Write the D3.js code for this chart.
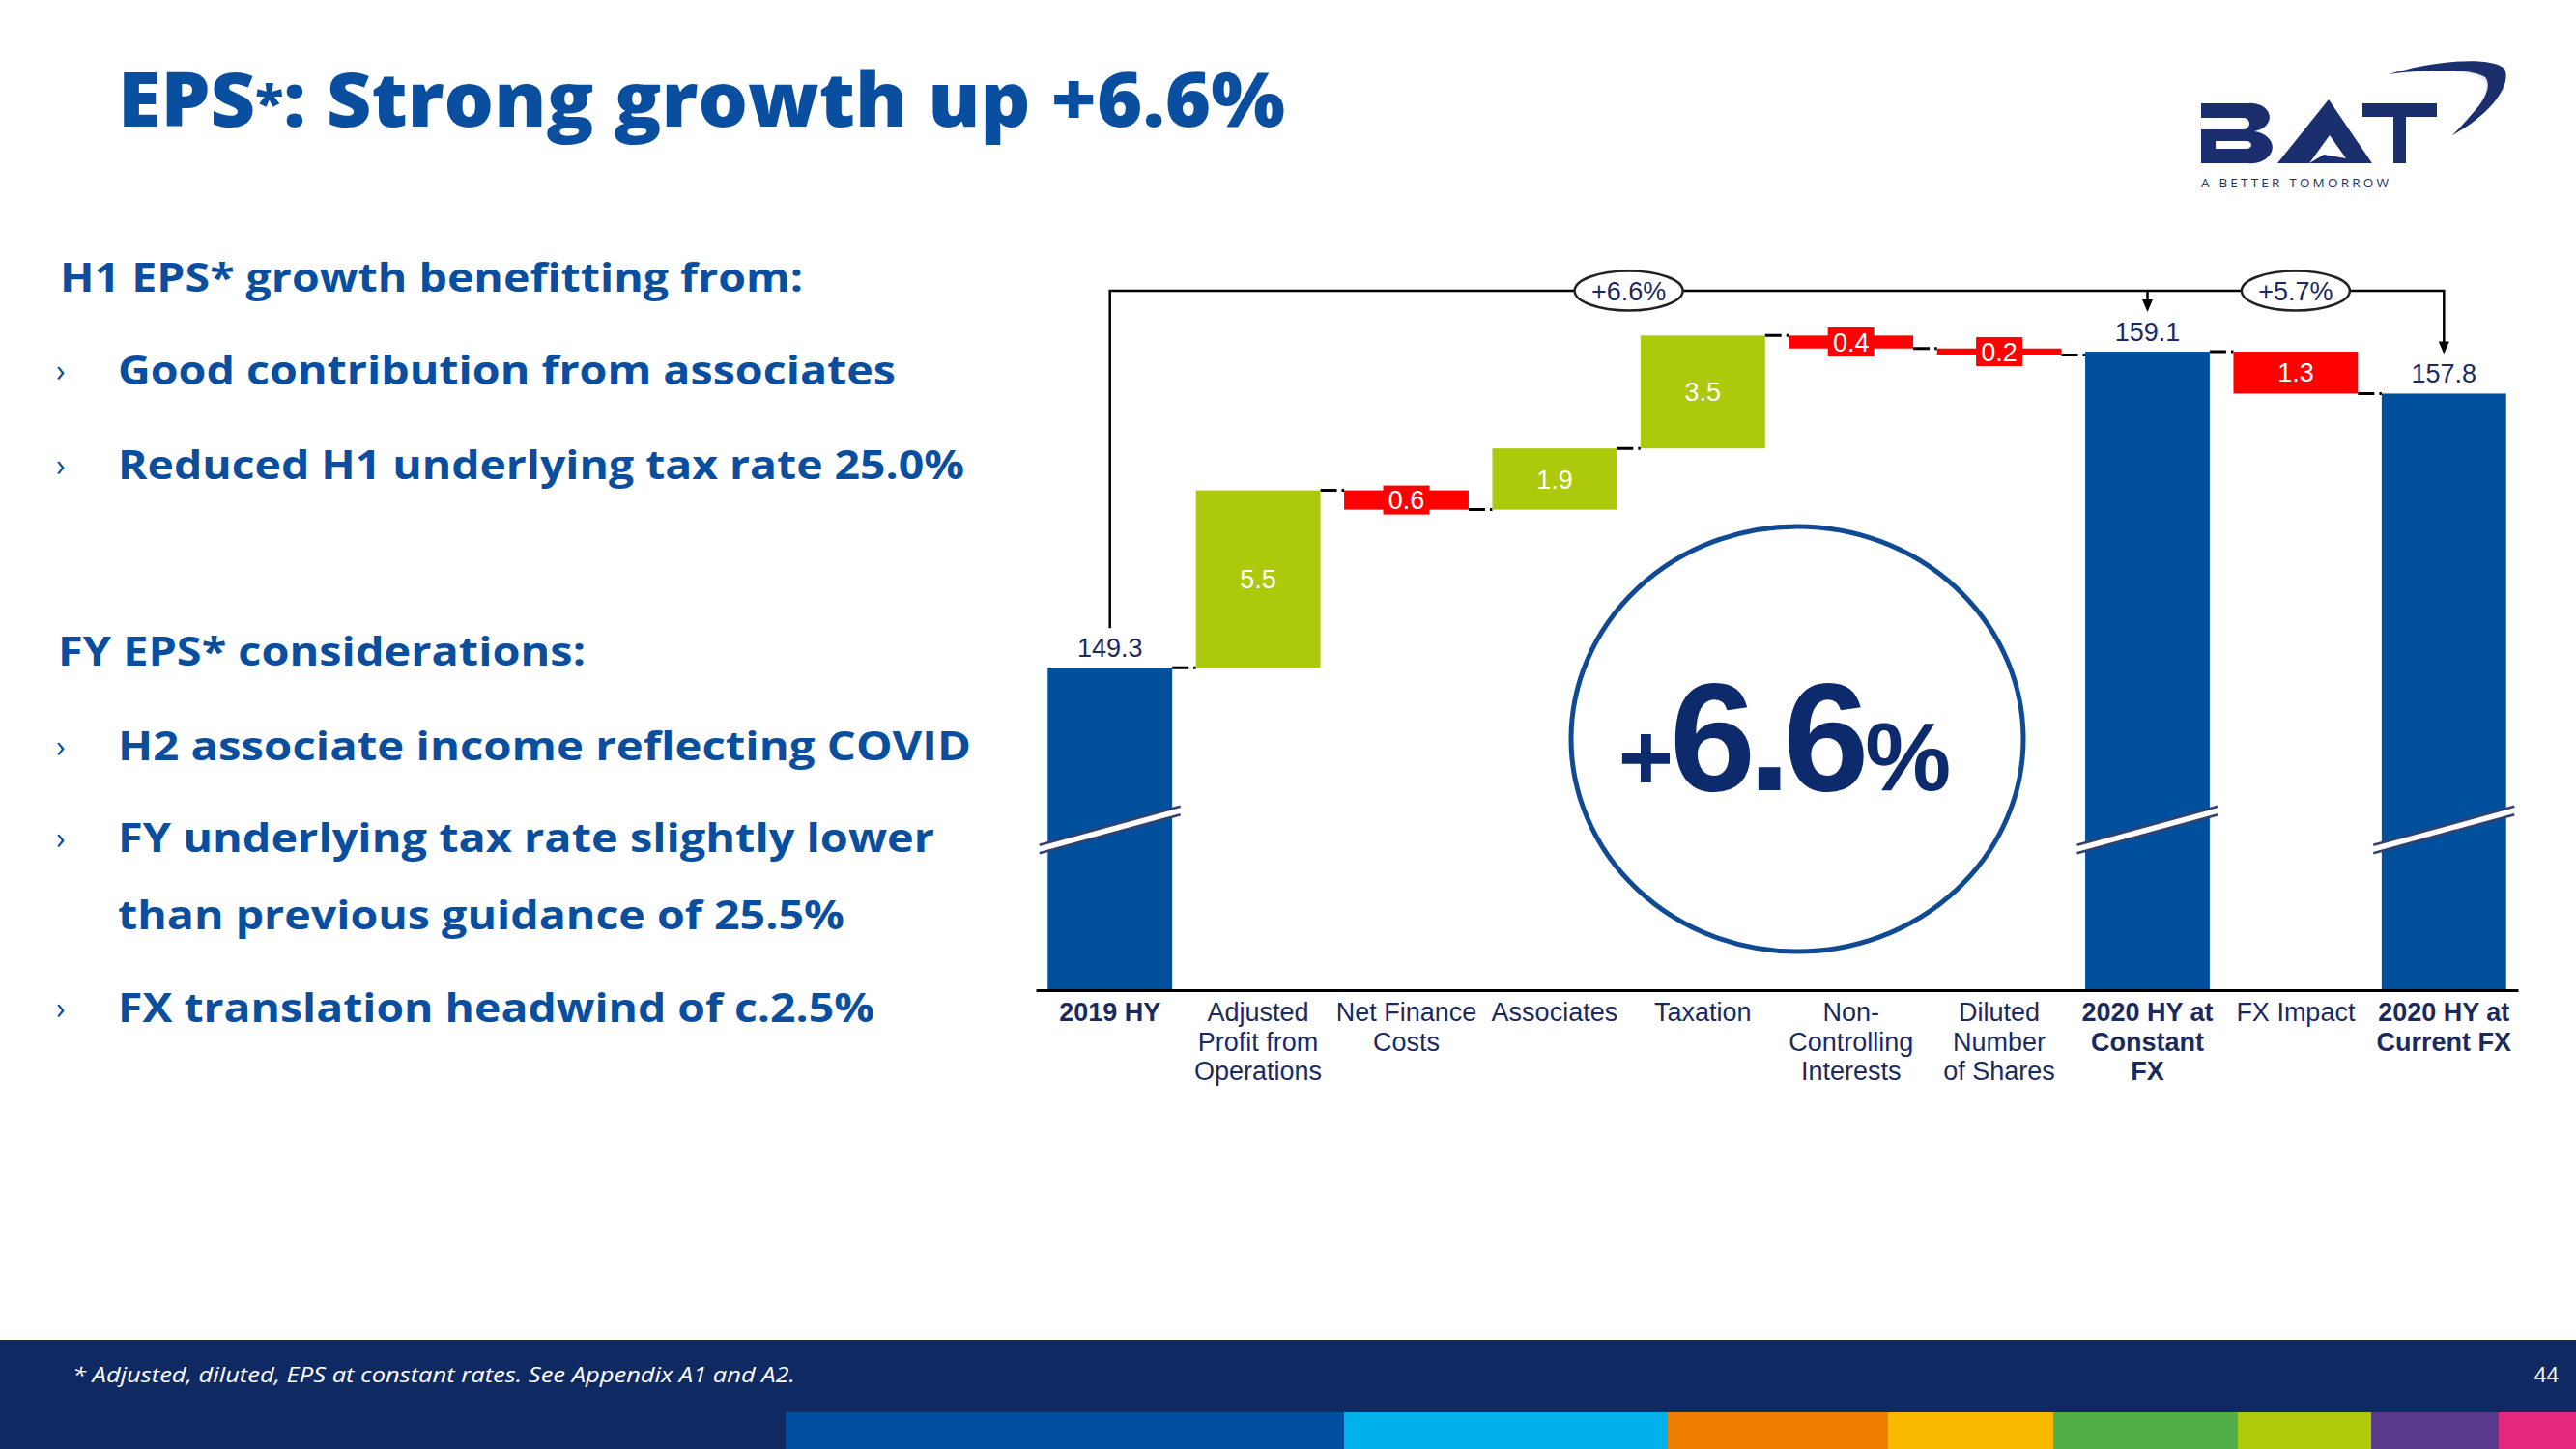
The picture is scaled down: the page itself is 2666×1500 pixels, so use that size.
<!DOCTYPE html>
<html><head><meta charset="utf-8">
<script src="https://cdn.jsdelivr.net/npm/d3@7"></script>
<style>html,body{margin:0;padding:0;background:#fff;}svg{display:block;}</style>
</head><body>
<svg id="c" width="2666" height="1500"></svg>
<script>
// ---------- DATA ----------
const categories = ["2019 HY","Adjusted Profit from Operations","Net Finance Costs","Associates","Taxation","Non-Controlling Interests","Diluted Number of Shares","2020 HY at Constant FX","FX Impact","2020 HY at Current FX"];
const categoryLines = [["2019 HY"],["Adjusted","Profit from","Operations"],["Net Finance","Costs"],["Associates"],["Taxation"],["Non-","Controlling","Interests"],["Diluted","Number","of Shares"],["2020 HY at","Constant","FX"],["FX Impact"],["2020 HY at","Current FX"]];
const values = [149.3, 5.5, -0.6, 1.9, 3.5, -0.4, -0.2, 159.1, -1.3, 157.8];
const kinds = ["total","delta","delta","delta","delta","delta","delta","total","delta","total"];
const growthLabels = ["+6.6%","+5.7%"];
const bigGrowth = ["+","6.6","%"];
const axisFloor = 139.3;   // broken value axis starts here
const axisTop = 160;

const titleParts = ["EPS","*",": Strong growth up +6.6%"];
const h1Heading = "H1 EPS* growth benefitting from:";
const h1Points = ["Good contribution from associates","Reduced H1 underlying tax rate 25.0%"];
const fyHeading = "FY EPS* considerations:";
const fyPoints = [["H2 associate income reflecting COVID"],["FY underlying tax rate slightly lower","than previous guidance of 25.5%"],["FX translation headwind of c.2.5%"]];
const footnote = "* Adjusted, diluted, EPS at constant rates.  See Appendix A1 and A2.";
const pageNumber = "44";
const stripeColors = ["#004f9f","#00b1eb","#ef7d00","#fbba00","#50af47","#afca0b","#5a3a8d","#e6287f"];
const stripeStops = [813,1391,1726,1954,2125,2316,2454,2586,2666];

// ---------- STYLE ----------
const BLUE = "#0a4f9f", NAVY = "#1b2a5e", BAR_BLUE = "#00509e", LIME = "#adc90c", RED = "#ff0000";
const SANS = "'Open Sans', 'Noto Sans', sans-serif";
const ARIAL = "'Liberation Sans', Arial, sans-serif";

const svg = d3.select("#c");
svg.append("rect").attr("width",2666).attr("height",1500).attr("fill","#fff");

// ---------- TITLE ----------
const title = svg.append("text").attr("x",122).attr("y",131)
  .attr("font-family",SANS).attr("font-weight",800).attr("font-size",78).attr("fill",BLUE)
  .attr("textLength",1208).attr("lengthAdjust","spacingAndGlyphs");
title.append("tspan").text(titleParts[0]);
title.append("tspan").attr("font-size",52).attr("dy",-6).text(titleParts[1]);
title.append("tspan").attr("dy",6).text(titleParts[2]);

// ---------- LEFT TEXT ----------
function txt(x,y,s,w,size){
  return svg.append("text").attr("x",x).attr("y",y).attr("font-family",SANS).attr("font-weight",700)
    .attr("font-size",size||42).attr("fill",BLUE).attr("textLength",w).attr("lengthAdjust","spacingAndGlyphs").text(s);
}
function bullet(y){
  svg.append("text").attr("x",58).attr("y",y-3).attr("font-family",SANS).attr("font-size",32)
    .attr("fill",BLUE).text("\u203A");
}
txt(62,302,h1Heading,769);
const h1Y=[398,496], h1W=[805,876];
h1Points.forEach((s,i)=>{bullet(h1Y[i]); txt(122,h1Y[i],s,h1W[i]);});
txt(60,689,fyHeading,546);
const fyY=[[787],[882,962],[1058]], fyW=[[883],[845,752],[783]];
fyPoints.forEach((lines,i)=>{bullet(fyY[i][0]); lines.forEach((s,j)=>txt(122,fyY[i][j],s,fyW[i][j]));});

// ---------- LOGO ----------
const logo = svg.append("g").attr("fill","#1b2f6e");
logo.append("path").attr("fill-rule","evenodd").attr("d",
  "M2278,107 H2326 A19,14.5 0 0 1 2333,136 A22,16.5 0 0 1 2326,169 H2278 Z " +
  "M2278,122 H2322 A6,6 0 0 1 2322,134 H2278 Z M2293,146 H2325 A5,4 0 0 1 2325,154 H2293 Z");
logo.append("path").attr("fill-rule","evenodd").attr("d",
  "M2357,169 L2410,103 L2455,169 Z M2390,169 L2411,140 L2428,164 L2405,160 Z");
logo.append("rect").attr("x",2445).attr("y",107).attr("width",77).attr("height",14);
logo.append("rect").attr("x",2477).attr("y",107).attr("width",13).attr("height",62);
logo.append("path").attr("d","M2472,77 C2520,62 2578,58 2592,71 C2600,88 2578,118 2538,140 C2566,112 2579,92 2570,83 C2556,72 2515,71 2472,77 Z");
logo.append("path").attr("fill","#fff").attr("d","M2480,79 C2525,70 2560,72 2572,80 C2580,90 2570,108 2552,124 C2566,106 2572,92 2566,86 C2555,78 2520,76 2480,79 Z").attr("opacity",0.9);
svg.append("text").attr("x",2278).attr("y",194).attr("font-family",SANS).attr("font-size",13.5)
  .attr("letter-spacing",3.2).attr("fill","#1b2f6e").text("A BETTER TOMORROW");

// ---------- CHART ----------
const x = d3.scaleBand().domain(categories).range([1072,2606]).paddingInner(0.16).paddingOuter(0.08);
const y = d3.scaleLinear().domain([axisFloor, axisTop]).range([1025, 334]);
const bw = x.bandwidth();
const cx = c => x(c) + bw/2;

let run = 0;
const bars = categories.map((c,i)=>{
  const v = values[i];
  if (kinds[i]==="total"){ run = v; return {c,i,v,kind:"total",lo:axisFloor,hi:v,end:v}; }
  const s = run; run = run + v;
  return {c,i,v,kind:v>=0?"up":"down",lo:Math.min(s,run),hi:Math.max(s,run),end:run};
});

const chart = svg.append("g");

// connectors
const conn = chart.append("g").attr("stroke","#000").attr("stroke-width",3).attr("stroke-dasharray","17,5");
bars.slice(0,-1).forEach((b,i)=>{
  const nx = bars[i+1];
  conn.append("line").attr("x1",x(b.c)+bw).attr("x2",x(nx.c))
    .attr("y1",y(b.end)).attr("y2",y(b.end));
});

// bars
chart.selectAll("rect.bar").data(bars).join("rect").attr("class","bar")
  .attr("x",d=>x(d.c)).attr("width",bw)
  .attr("y",d=>y(d.hi)).attr("height",d=>y(d.lo)-y(d.hi))
  .attr("fill",d=>d.kind==="total"?BAR_BLUE:d.kind==="up"?LIME:RED);

// axis
const axis = chart.append("g").attr("transform","translate(0,1025)")
  .call(d3.axisBottom(x).tickSize(0).tickSizeOuter(0).tickFormat(""));
axis.select(".domain").attr("stroke","#000").attr("stroke-width",3);
axis.selectAll(".tick text").remove();

// category labels
bars.forEach(b=>{
  const t = chart.append("text").attr("x",cx(b.c)).attr("y",1057).attr("text-anchor","middle")
    .attr("font-family",ARIAL).attr("font-size",27).attr("fill",NAVY)
    .attr("font-weight",b.kind==="total"?700:400);
  categoryLines[b.i].forEach((l,j)=>t.append("tspan").attr("x",cx(b.c)).attr("dy",j===0?0:30.5).text(l));
});

// axis break marks on total bars
const breakY = 859;
bars.filter(b=>b.kind==="total").forEach(b=>{
  const c = cx(b.c), dx=73, dy=20, off=4.2;
  chart.append("polygon").attr("fill","#fff")
    .attr("points",[[c-dx,breakY+dy-off],[c+dx,breakY-dy-off],[c+dx,breakY-dy+off],[c-dx,breakY+dy+off]].map(p=>p.join(",")).join(" "));
  [-off,off].forEach(o=>chart.append("line").attr("x1",c-dx).attr("y1",breakY+dy+o).attr("x2",c+dx).attr("y2",breakY-dy+o)
    .attr("stroke","#34416d").attr("stroke-width",2.6));
});

// value labels
bars.forEach(b=>{
  const lab = Math.abs(b.v).toFixed(1);
  if (b.kind==="total"){
    chart.append("text").attr("x",cx(b.c)).attr("y",y(b.hi)-11).attr("text-anchor","middle")
      .attr("font-family",ARIAL).attr("font-size",27).attr("fill",NAVY).text(lab);
  } else {
    const my = (y(b.hi)+y(b.lo))/2;
    const h = y(b.lo)-y(b.hi);
    if (h < 30){
      chart.append("rect").attr("x",cx(b.c)-24).attr("y",my-15).attr("width",48).attr("height",30).attr("fill",RED);
    }
    chart.append("text").attr("x",cx(b.c)).attr("y",my).attr("dy","0.36em").attr("text-anchor","middle")
      .attr("font-family",ARIAL).attr("font-size",27).attr("fill","#fff").text(lab);
  }
});

// growth bracket
const totals = bars.filter(b=>b.kind==="total");
const bracketY = 301;
const tipOf = b => y(b.hi) - 41;
const br = chart.append("g");
br.append("path").attr("fill","none").attr("stroke","#000").attr("stroke-width",2.5)
  .attr("d",`M${cx(totals[0].c)},${tipOf(totals[0])} V${bracketY} H${cx(totals[2].c)} V${tipOf(totals[2])-12}`);
br.append("line").attr("x1",cx(totals[1].c)).attr("x2",cx(totals[1].c)).attr("y1",bracketY).attr("y2",tipOf(totals[1])-12)
  .attr("stroke","#000").attr("stroke-width",2.5);
[totals[1],totals[2]].forEach(b=>{
  const c=cx(b.c), t=tipOf(b);
  br.append("path").attr("fill","#000").attr("d",`M${c-5.5},${t-13} L${c+5.5},${t-13} L${c},${t} Z`);
});
const pills = [ (cx(totals[0].c)+cx(totals[1].c))/2, (cx(totals[1].c)+cx(totals[2].c))/2 ];
pills.forEach((px,i)=>{
  br.append("ellipse").attr("cx",px).attr("cy",bracketY).attr("rx",56).attr("ry",20.5)
    .attr("fill","#fff").attr("stroke","#222").attr("stroke-width",2.5);
  br.append("text").attr("x",px).attr("y",bracketY).attr("dy","0.36em").attr("text-anchor","middle")
    .attr("font-family",ARIAL).attr("font-size",27).attr("fill",NAVY).text(growthLabels[i]);
});

// big circle
svg.append("ellipse").attr("cx",1860).attr("cy",765).attr("rx",234).attr("ry",220)
  .attr("fill","none").attr("stroke","#0f4a93").attr("stroke-width",5);
const bt = svg.append("text").attr("x",1847).attr("y",818).attr("text-anchor","middle")
  .attr("font-family",ARIAL).attr("font-weight",700).attr("fill","#0c2a6c");
bt.append("tspan").attr("font-size",98).attr("letter-spacing",-4).text(bigGrowth[0]);
bt.append("tspan").attr("font-size",160).attr("letter-spacing",-8).text(bigGrowth[1]);
bt.append("tspan").attr("font-size",100).attr("dx",4).text(bigGrowth[2]);

// ---------- FOOTER ----------
svg.append("rect").attr("x",0).attr("y",1387).attr("width",2666).attr("height",113).attr("fill","#0f2a62");
stripeColors.forEach((col,i)=>{
  svg.append("rect").attr("x",stripeStops[i]).attr("y",1462).attr("width",stripeStops[i+1]-stripeStops[i]).attr("height",38).attr("fill",col);
});
svg.append("text").attr("x",75).attr("y",1431).attr("font-family",SANS).attr("font-style","italic")
  .attr("font-size",22).attr("fill","#fff").attr("textLength",748).attr("lengthAdjust","spacingAndGlyphs").text(footnote);
svg.append("text").attr("x",2648).attr("y",1431).attr("text-anchor","end").attr("font-family",SANS)
  .attr("font-size",22).attr("fill","#fff").text(pageNumber);
</script>
</body></html>
